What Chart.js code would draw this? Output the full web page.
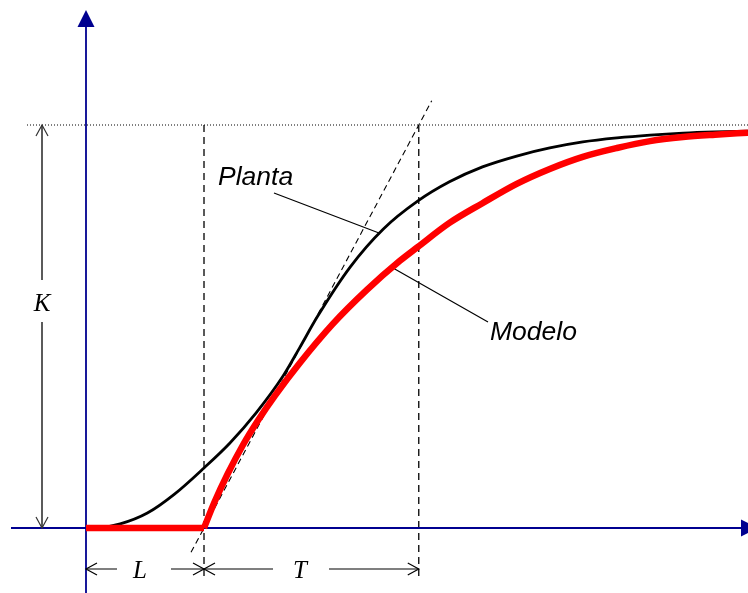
<!DOCTYPE html>
<html>
<head>
<meta charset="utf-8">
<script src="https://cdn.jsdelivr.net/npm/chart.js@4"></script>
<style>
  body { margin: 0; background: #fff; }
  #wrap { width: 748px; height: 593px; position: relative; }
</style>
</head>
<body>
<div id="wrap"><canvas id="grafico"></canvas></div>
<script>
// respuesta al escalon: planta real y modelo de primer orden con retardo
const L = 1.0;     // retardo
const T = 1.82;    // constante de tiempo
const K = 1.0;     // ganancia

// curva de la planta
const tiempoPlanta = [0, 0.12, 0.29, 0.52, 0.75, 1.00, 1.22, 1.44, 1.67, 1.81, 1.96, 2.24, 2.52, 2.81, 3.08, 3.36, 3.65, 3.93, 4.21, 4.50, 4.78, 5.06, 5.33, 5.61];
const planta       = [0, 0.001, 0.010, 0.037, 0.084, 0.149, 0.211, 0.285, 0.377, 0.447, 0.524, 0.648, 0.742, 0.811, 0.859, 0.896, 0.923, 0.943, 0.958, 0.968, 0.975, 0.980, 0.983, 0.985];

// curva del modelo (tramo de subida, despues del retardo)
const tiempoModelo = [1.00, 1.09, 1.20, 1.33, 1.46, 1.60, 1.81, 2.09, 2.38, 2.66, 2.81, 3.08, 3.36, 3.65, 3.93, 4.21, 4.50, 4.78, 5.06, 5.33, 5.61];
const modelo       = [0, 0.065, 0.134, 0.206, 0.268, 0.328, 0.409, 0.506, 0.591, 0.663, 0.697, 0.757, 0.806, 0.854, 0.891, 0.921, 0.943, 0.960, 0.970, 0.976, 0.981];

// extremos de la recta tangente (en tiempo)
const tangenteT = [0.89, 2.93];

const AZUL = '#000090';

function puntos(xs, ys){ return xs.map((x, i) => ({ x: x, y: ys[i] })); }

// flecha abierta en forma de V
function punta(ctx, x, y, dx, dy){
    const s = 11, w = 6;
    ctx.beginPath();
    ctx.moveTo(x - dx*s - dy*w, y - dy*s + dx*w);
    ctx.lineTo(x, y);
    ctx.lineTo(x - dx*s + dy*w, y - dy*s - dx*w);
    ctx.stroke();
}

const guias = {
    id: 'guias',
    beforeDatasetsDraw(chart){
        const ctx = chart.ctx;
        const sx = chart.scales.x, sy = chart.scales.y;
        const px = v => sx.getPixelForValue(v);
        const py = v => sy.getPixelForValue(v);
        const x0 = px(0), xL = px(L), xT = px(L + T);
        const y0 = py(0), yK = py(K);

        ctx.save();

        // linea punteada en K
        ctx.strokeStyle = '#000';
        ctx.lineWidth = 1;
        ctx.setLineDash([1, 2]);
        ctx.beginPath();
        ctx.moveTo(27, yK); ctx.lineTo(chart.width, yK);
        ctx.stroke();

        // verticales discontinuas en L y L+T
        ctx.lineWidth = 1.3;
        ctx.setLineDash([7, 5]);
        [xL, xT].forEach(x => {
            ctx.beginPath();
            ctx.moveTo(x, yK); ctx.lineTo(x, 578);
            ctx.stroke();
        });
        ctx.setLineDash([]);

        // ejes
        ctx.strokeStyle = AZUL;
        ctx.fillStyle = AZUL;
        ctx.lineWidth = 1.8;
        ctx.beginPath();
        ctx.moveTo(x0, chart.height); ctx.lineTo(x0, 24);
        ctx.moveTo(11, y0); ctx.lineTo(744, y0);
        ctx.stroke();
        ctx.beginPath();
        ctx.moveTo(x0, 10); ctx.lineTo(x0 - 8.5, 27); ctx.lineTo(x0 + 8.5, 27);
        ctx.closePath(); ctx.fill();
        ctx.beginPath();
        ctx.moveTo(758, y0); ctx.lineTo(741, y0 - 8.5); ctx.lineTo(741, y0 + 8.5);
        ctx.closePath(); ctx.fill();

        // cota de K
        const xk = 42;
        ctx.strokeStyle = '#333';
        ctx.lineWidth = 1.6;
        ctx.beginPath();
        ctx.moveTo(xk, yK); ctx.lineTo(xk, 280);
        ctx.moveTo(xk, 322); ctx.lineTo(xk, y0);
        ctx.stroke();
        ctx.lineWidth = 1.2;
        punta(ctx, xk, yK, 0, -1);
        punta(ctx, xk, y0, 0, 1);

        // cotas de L y T
        const yc = 569;
        ctx.strokeStyle = '#000';
        ctx.lineWidth = 1.2;
        ctx.beginPath();
        ctx.moveTo(x0, yc); ctx.lineTo(117, yc);
        ctx.moveTo(171, yc); ctx.lineTo(xL, yc);
        ctx.moveTo(xL, yc); ctx.lineTo(273, yc);
        ctx.moveTo(329, yc); ctx.lineTo(xT, yc);
        ctx.stroke();
        punta(ctx, x0, yc, -1, 0);
        punta(ctx, xL, yc, 1, 0);
        punta(ctx, xL, yc, -1, 0);
        punta(ctx, xT, yc, 1, 0);

        ctx.fillStyle = '#000';
        ctx.font = 'italic 25px "Liberation Serif"';
        ctx.textAlign = 'center';
        ctx.textBaseline = 'alphabetic';
        ctx.fillText('K', xk, 311);
        ctx.fillText('L', 140, 578);
        ctx.fillText('T', 300, 578);

        // etiquetas con linea de referencia
        ctx.lineWidth = 1.2;
        ctx.beginPath();
        ctx.moveTo(274, 193); ctx.lineTo(379, 233);
        ctx.moveTo(393, 268); ctx.lineTo(488, 322);
        ctx.stroke();
        ctx.font = 'italic 26.5px "Liberation Sans"';
        ctx.textAlign = 'left';
        ctx.fillText('Planta', 218, 185);
        ctx.fillText('Modelo', 490, 340);

        ctx.restore();
    }
};

window.addEventListener('load', function(){
    const ctx = document.getElementById('grafico').getContext('2d');
    new Chart(ctx, {
        type: 'line',
        data: {
            datasets: [
                { label: 'Modelo', data: puntos([0, L], [0, 0]), borderColor: '#ff0000', borderWidth: 6.5, order: 0 },
                { label: 'Modelo', data: puntos(tiempoModelo, modelo), borderColor: '#ff0000', borderWidth: 6.5, cubicInterpolationMode: 'monotone', order: 0 },
                { label: 'Planta', data: puntos(tiempoPlanta, planta), borderColor: '#000', borderWidth: 2.8, cubicInterpolationMode: 'monotone', order: 1 },
                { label: 'Tangente', data: puntos(tangenteT, tangenteT.map(t => K * (t - L) / T)), borderColor: '#000', borderWidth: 1.1, borderDash: [6, 4], order: 2 }
            ]
        },
        options: {
            responsive: true,
            maintainAspectRatio: false,
            animation: false,
            layout: { padding: 0 },
            elements: { point: { radius: 0 }, line: { borderCapStyle: 'butt', fill: false } },
            plugins: { legend: { display: false }, tooltip: { enabled: false } },
            scales: {
                x: { type: 'linear', display: false, min: -0.7288, max: 5.61 },
                y: { type: 'linear', display: false, min: -0.1613, max: 1.3102 }
            }
        },
        plugins: [guias]
    });
});
</script>
</body>
</html>
